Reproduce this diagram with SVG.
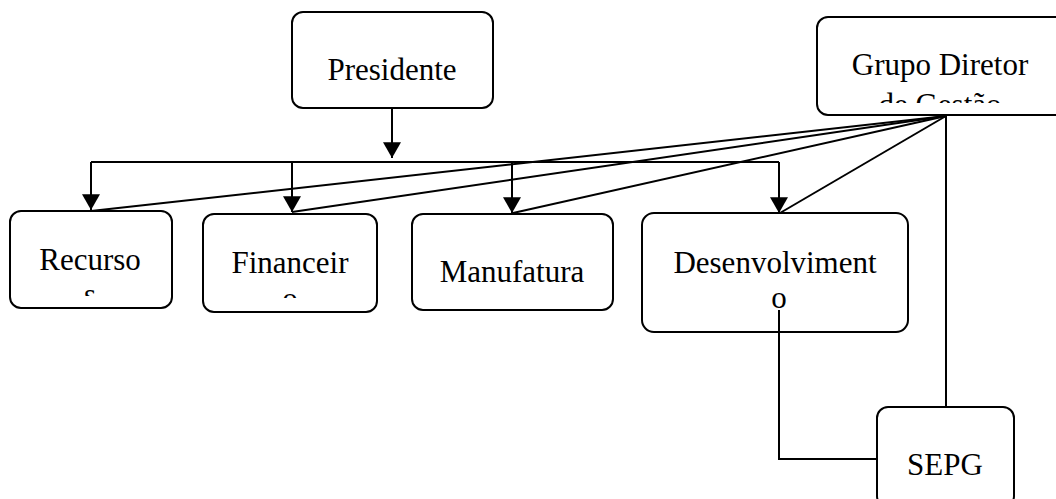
<svg xmlns="http://www.w3.org/2000/svg" width="1056" height="499" viewBox="0 0 1056 499">
  <style>
    .box { fill: #ffffff; stroke: #000000; stroke-width: 2; }
    .lbl { font-family: "Liberation Serif", "Times New Roman", serif; font-size: 31px; fill: #000000; text-anchor: middle; }
    .wire { fill: none; stroke: #000000; stroke-width: 2; }
  </style>
  <defs>
    <marker id="arrow" markerUnits="userSpaceOnUse" markerWidth="16" markerHeight="18" viewBox="0 -8 14 16" refX="14" refY="0" orient="auto">
      <path d="M0,-8 L14,0 L0,8 z" fill="#000000"/>
    </marker>
    <!-- text areas are clipped so wrapped second lines are cut off -->
    <clipPath id="clip-recursos"><rect x="10" y="211" width="162" height="85"/></clipPath>
    <clipPath id="clip-financeiro"><rect x="203" y="214" width="174" height="84"/></clipPath>
    <clipPath id="clip-grupo"><rect x="817" y="17" width="239" height="86"/></clipPath>
  </defs>

  <g id="node-presidente">
    <rect class="box" x="292" y="12" width="201" height="96" rx="11"/>
    <text class="lbl" x="392" y="80">Presidente</text>
  </g>

  <g id="node-grupo-diretor">
    <rect class="box" x="817" y="17" width="250" height="98" rx="11"/>
    <g clip-path="url(#clip-grupo)">
      <text class="lbl" x="940" y="75">Grupo Diretor</text>
      <text class="lbl" x="940" y="115">de Gestão</text>
    </g>
  </g>

  <g id="node-recursos">
    <rect class="box" x="10" y="211" width="162" height="97" rx="11"/>
    <g clip-path="url(#clip-recursos)">
      <text class="lbl" x="90" y="270">Recurso</text>
      <text class="lbl" x="90" y="305">s</text>
    </g>
  </g>

  <g id="node-financeiro">
    <rect class="box" x="203" y="214" width="174" height="98" rx="11"/>
    <g clip-path="url(#clip-financeiro)">
      <text class="lbl" x="290" y="273">Financeir</text>
      <text class="lbl" x="290" y="309">o</text>
    </g>
  </g>

  <g id="node-manufatura">
    <rect class="box" x="412" y="214" width="201" height="96" rx="11"/>
    <text class="lbl" x="512" y="282">Manufatura</text>
  </g>

  <g id="node-desenvolvimento">
    <rect class="box" x="642" y="213" width="266" height="119" rx="12"/>
    <text class="lbl" x="775" y="273">Desenvolviment</text>
    <text class="lbl" x="779" y="308">o</text>
  </g>

  <g id="node-sepg">
    <rect class="box" x="877" y="407" width="137" height="100" rx="11"/>
    <text class="lbl" x="945" y="475">SEPG</text>
  </g>

  <g id="connectors">
    <!-- Presidente to the department bus -->
    <line class="wire" x1="392" y1="108" x2="392" y2="158" marker-end="url(#arrow)"/>
    <line class="wire" x1="91" y1="162" x2="779" y2="162"/>
    <line class="wire" x1="91" y1="162" x2="91" y2="210" marker-end="url(#arrow)"/>
    <line class="wire" x1="292" y1="162" x2="292" y2="212" marker-end="url(#arrow)"/>
    <line class="wire" x1="512" y1="162" x2="512" y2="213" marker-end="url(#arrow)"/>
    <line class="wire" x1="779" y1="162" x2="779" y2="213" marker-end="url(#arrow)"/>
    <!-- Grupo Diretor fan-out -->
    <line class="wire" x1="946" y1="116" x2="91" y2="211"/>
    <line class="wire" x1="946" y1="116" x2="292" y2="212"/>
    <line class="wire" x1="946" y1="116" x2="513" y2="213"/>
    <line class="wire" x1="946" y1="116" x2="780" y2="213"/>
    <line class="wire" x1="946" y1="116" x2="946" y2="407"/>
    <!-- Desenvolvimento to SEPG -->
    <polyline class="wire" points="779,310 779,459 877,459"/>
  </g>
</svg>
